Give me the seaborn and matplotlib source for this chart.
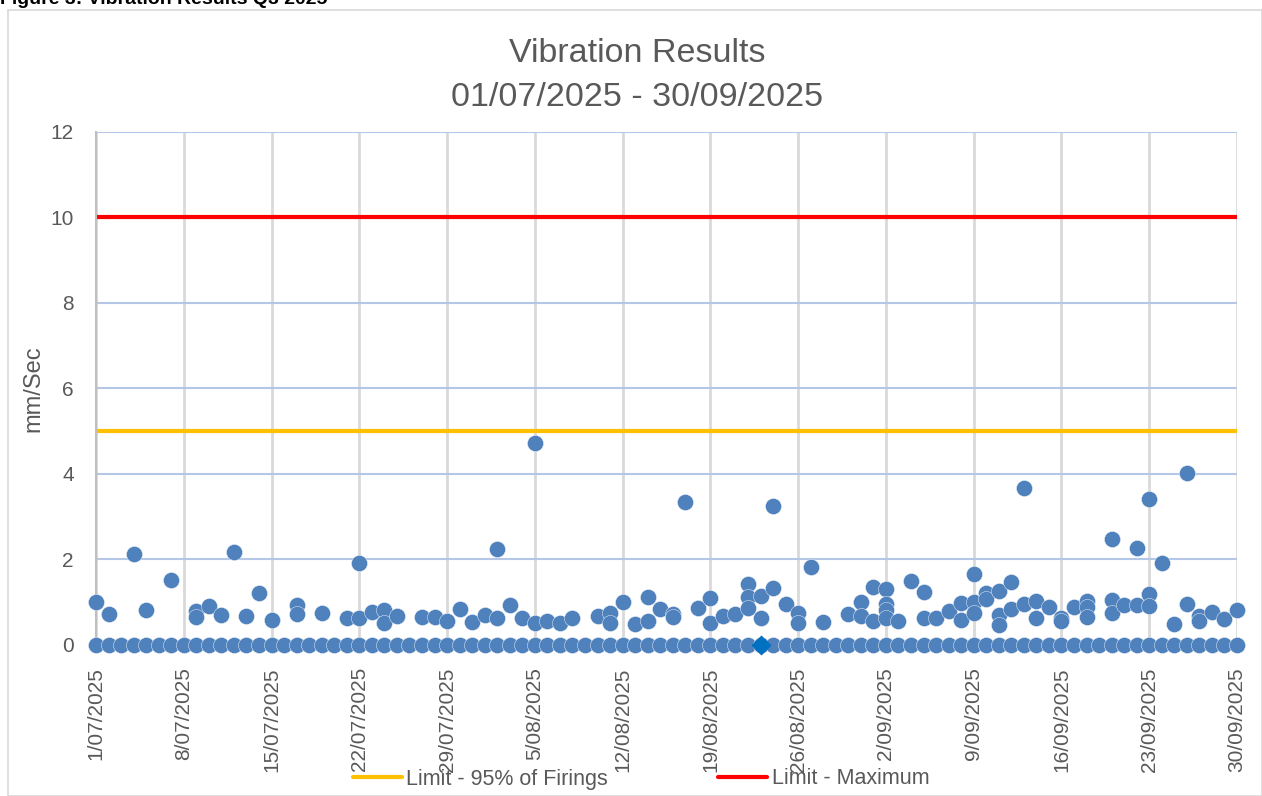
import pandas as pd
import seaborn as sns
import matplotlib.pyplot as plt

# readings above zero (date, mm/Sec)
reading_dates = [
    "2025-07-01", "2025-07-02", "2025-07-04", "2025-07-05", "2025-07-07",
    "2025-07-09", "2025-07-09", "2025-07-10", "2025-07-11", "2025-07-12",
    "2025-07-13", "2025-07-14", "2025-07-15", "2025-07-17", "2025-07-17",
    "2025-07-19", "2025-07-21", "2025-07-22", "2025-07-22", "2025-07-23",
    "2025-07-24", "2025-07-24", "2025-07-25", "2025-07-27", "2025-07-28",
    "2025-07-29", "2025-07-30", "2025-07-31", "2025-08-01", "2025-08-02",
    "2025-08-02", "2025-08-03", "2025-08-04", "2025-08-05", "2025-08-05",
    "2025-08-06", "2025-08-07", "2025-08-08", "2025-08-10", "2025-08-11",
    "2025-08-11", "2025-08-12", "2025-08-13", "2025-08-14", "2025-08-14",
    "2025-08-15", "2025-08-16", "2025-08-16", "2025-08-17", "2025-08-18",
    "2025-08-19", "2025-08-19", "2025-08-20", "2025-08-21", "2025-08-22",
    "2025-08-22", "2025-08-22", "2025-08-23", "2025-08-23", "2025-08-24",
    "2025-08-24", "2025-08-25", "2025-08-26", "2025-08-26", "2025-08-27",
    "2025-08-28", "2025-08-30", "2025-08-31", "2025-08-31", "2025-09-01",
    "2025-09-01", "2025-09-02", "2025-09-02", "2025-09-02", "2025-09-02",
    "2025-09-03", "2025-09-04", "2025-09-05", "2025-09-05", "2025-09-06",
    "2025-09-07", "2025-09-08", "2025-09-08", "2025-09-09", "2025-09-09",
    "2025-09-09", "2025-09-10", "2025-09-10", "2025-09-11", "2025-09-11",
    "2025-09-11", "2025-09-12", "2025-09-12", "2025-09-13", "2025-09-13",
    "2025-09-14", "2025-09-14", "2025-09-15", "2025-09-16", "2025-09-16",
    "2025-09-17", "2025-09-18", "2025-09-18", "2025-09-18", "2025-09-20",
    "2025-09-20", "2025-09-20", "2025-09-21", "2025-09-22", "2025-09-22",
    "2025-09-23", "2025-09-23", "2025-09-23", "2025-09-24", "2025-09-25",
    "2025-09-26", "2025-09-26", "2025-09-27", "2025-09-27", "2025-09-28",
    "2025-09-29", "2025-09-30",
]
reading_vals = [
    1.00, 0.72, 2.14, 0.82, 1.52,
    0.80, 0.66, 0.91, 0.70, 2.18,
    0.68, 1.22, 0.58, 0.94, 0.72,
    0.76, 0.64, 1.91, 0.63, 0.78,
    0.82, 0.52, 0.69, 0.66, 0.66,
    0.56, 0.84, 0.53, 0.70, 2.24,
    0.62, 0.94, 0.62, 4.72, 0.52,
    0.57, 0.52, 0.63, 0.69, 0.76,
    0.52, 1.01, 0.49, 1.12, 0.57,
    0.84, 0.72, 0.66, 3.35, 0.86,
    1.09, 0.51, 0.69, 0.72, 1.43,
    1.13, 0.86, 1.15, 0.62, 3.24,
    1.33, 0.96, 0.74, 0.52, 1.82,
    0.53, 0.73, 1.00, 0.68, 1.35,
    0.55, 1.31, 0.97, 0.82, 0.62,
    0.57, 1.50, 1.25, 0.62, 0.62,
    0.80, 0.99, 0.58, 1.66, 1.01,
    0.74, 1.22, 1.07, 1.26, 0.70,
    0.47, 1.47, 0.84, 3.67, 0.96,
    1.04, 0.62, 0.90, 0.62, 0.55,
    0.88, 1.03, 0.88, 0.65, 2.48,
    1.05, 0.76, 0.94, 2.26, 0.94,
    3.42, 1.19, 0.91, 1.91, 0.48,
    4.02, 0.97, 0.68, 0.55, 0.78,
    0.61, 0.82,
]

# one zero reading logged every day of the quarter
zero_days = pd.date_range("2025-07-01", "2025-09-30", freq="D")
zero_vals = [0.0] * len(zero_days)

# the single diamond marker sitting on the axis
diamond_dates = ["2025-08-23"]
diamond_vals = [0.0]

limit_95 = 5
limit_max = 10

tick_dates = pd.date_range("2025-07-01", "2025-09-30", freq="7D")
tick_labels = ["1/07/2025", "8/07/2025", "15/07/2025", "22/07/2025", "29/07/2025",
               "5/08/2025", "12/08/2025", "19/08/2025", "26/08/2025", "2/09/2025",
               "9/09/2025", "16/09/2025", "23/09/2025", "30/09/2025"]

readings = pd.DataFrame({"date": pd.to_datetime(reading_dates), "val": reading_vals})
zeros = pd.DataFrame({"date": zero_days, "val": zero_vals})
diamonds = pd.DataFrame({"date": pd.to_datetime(diamond_dates), "val": diamond_vals})

sns.set_theme(style="white")
plt.rcParams["font.family"] = ["Liberation Sans", "DejaVu Sans"]
grey_text = "#595959"
dot_col = "#4F81BD"

fig = plt.figure(figsize=(12.62, 7.96), dpi=100)
ax = fig.add_axes([0.0761, 0.1897, 0.9041, 0.6445])

ax.axhline(limit_95, color="#FFC000", lw=3, label="Limit - 95% of Firings", zorder=2)
ax.axhline(limit_max, color="#FF0000", lw=3, label="Limit - Maximum", zorder=2)

sc_kw = dict(color=dot_col, s=135, edgecolor="white", linewidth=0.3, legend=False, zorder=4)
sns.scatterplot(data=zeros, x="date", y="val", ax=ax, clip_on=False, **sc_kw)
sns.scatterplot(data=readings, x="date", y="val", ax=ax, clip_on=False, **sc_kw)
sns.scatterplot(data=diamonds, x="date", y="val", ax=ax, marker="D", s=90,
                color="#0070C0", edgecolor="#0070C0", legend=False, zorder=5, clip_on=False)

ax.set_xlim(pd.Timestamp("2025-07-01"), pd.Timestamp("2025-09-30"))
ax.set_ylim(0, 12)
ax.set_yticks([0, 2, 4, 6, 8, 10, 12])
ax.set_xticks(tick_dates)
ax.set_xticklabels(tick_labels, rotation=90)

ax.grid(axis="y", color="#B4C7E7", lw=1.5, zorder=0)
ax.grid(axis="x", color="#D9D9D9", lw=2, zorder=0)
ax.set_axisbelow(True)
for s in ["top", "right", "bottom"]:
    ax.spines[s].set_visible(False)
ax.spines["left"].set_color("#BFBFBF")
ax.spines["left"].set_linewidth(1.5)

ax.tick_params(axis="y", length=0, pad=16, labelsize=15, labelcolor=grey_text)
ax.tick_params(axis="x", length=0, pad=16, labelsize=15, labelcolor=grey_text)
ax.set_xlabel("")
ax.set_ylabel("mm/Sec", fontsize=17, color=grey_text, labelpad=4)

fig.text(0.505, 0.933, "Vibration Results", ha="center", va="center", fontsize=24.5, color=grey_text)
fig.text(0.505, 0.877, "01/07/2025 - 30/09/2025", ha="center", va="center", fontsize=24.5, color=grey_text)

# caption cut off at the top edge, as in the source document
fig.text(0.0, 1 - 4 / 796, "Figure 3: Vibration Results Q3 2025", ha="left", va="baseline",
         fontsize=14, fontweight="bold", color="black")

# chart border
fig.add_artist(plt.Rectangle((8 / 1262, 0), 1 - 8 / 1262, 1 - 10 / 796, transform=fig.transFigure,
                             fill=False, edgecolor="#D9D9D9", lw=1.2))

leg = ax.legend(loc="center", ncol=2, frameon=False, fontsize=15.5, handlelength=2.3,
                columnspacing=5.1, handletextpad=0.2)
leg.set_bbox_to_anchor((641 / 1262, 17 / 796), transform=fig.transFigure)
for t in leg.get_texts():
    t.set_color(grey_text)
leg.set_zorder(10)

fig.savefig("out.png", dpi=100)
